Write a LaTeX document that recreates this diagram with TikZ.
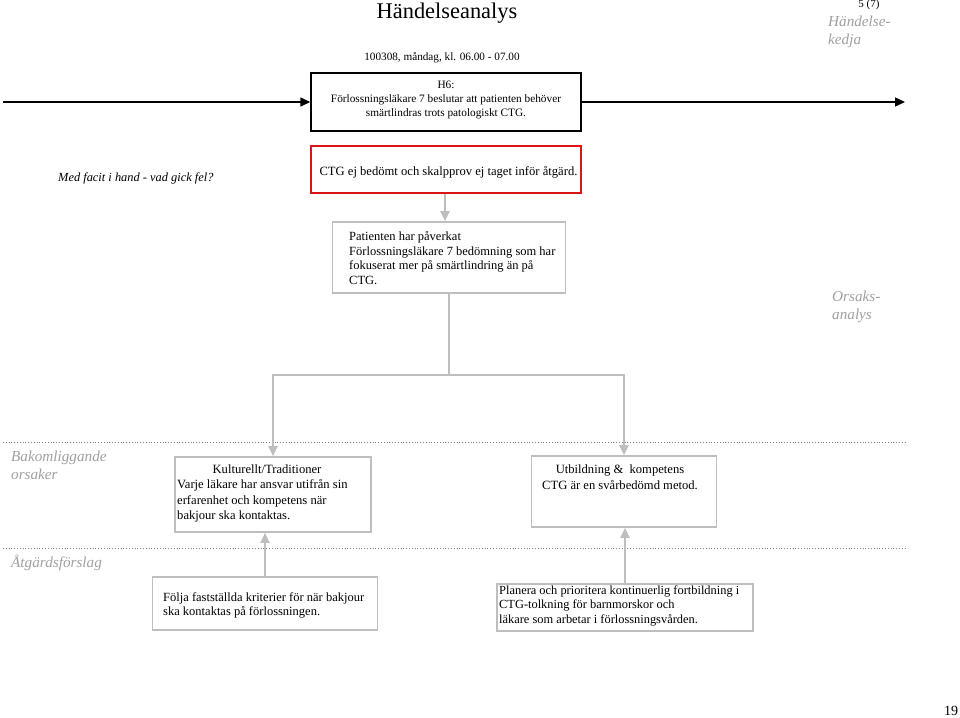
\documentclass[tikz,border=0pt]{standalone}
\usepackage{fontspec}
\setmainfont{Liberation Serif}
\usetikzlibrary{arrows.meta}
\definecolor{boxgray}{RGB}{190,190,190}
\definecolor{labgray}{RGB}{160,160,160}
\definecolor{boxred}{RGB}{220,20,20}
\begin{document}
\begin{tikzpicture}[x=1pt,y=-1pt,
  box/.style={draw=boxgray, line width=1.6pt, fill=white, inner sep=0pt},
  blackbox/.style={draw=black, line width=1.4pt, fill=white, inner sep=0pt},
  redbox/.style={draw=boxred, line width=2pt, fill=white, inner sep=0pt},
  txt/.style={inner sep=0pt, font=\fontsize{12.6}{15.3}\selectfont},
  sidelabel/.style={inner sep=0pt, anchor=west, text=labgray, font=\fontsize{15.2}{18}\itshape\selectfont, align=left},
  conn/.style={draw=boxgray, line width=2pt, -{Triangle[length=10pt,width=9pt]}},
  plainconn/.style={draw=boxgray, line width=2pt},
  mainline/.style={draw=black, line width=1.4pt, -{Triangle[length=10pt,width=9pt]}},
  sep/.style={draw=gray, line width=0.8pt, dotted}
]
\useasboundingbox (0,0) rectangle (960,717);

% header
\node[inner sep=0pt, font=\fontsize{22.4}{26}\selectfont] (title) at (447,13) {Händelseanalys};
\node[inner sep=0pt, font=\fontsize{11.2}{13}\selectfont] (date) at (442,58) {100308, måndag, kl. 06.00 - 07.00};
\node[inner sep=0pt, font=\fontsize{11}{13}\selectfont] (page) at (869,5) {5 (7)};
\node[sidelabel] (kedja) at (828,32) {\strut Händelse-\\\strut kedja};
\node[inner sep=0pt, font=\fontsize{14}{16}\selectfont] (pnum) at (951,711) {19};

% H6 box and main line
\node[blackbox, minimum width=270pt, minimum height=58pt] (h6) at (446,102) {};
\node[txt, align=center, font=\fontsize{11.3}{14}\selectfont] (h6t) at (446,99.5)
  {\strut H6:\\\strut Förlossningsläkare 7 beslutar att patienten behöver\\\strut smärtlindras trots patologiskt CTG.};
\coordinate (mstart) at (3,102);
\coordinate (mend) at (905,102);
\draw[mainline] (mstart) -- (h6.west);
\draw[mainline] (h6.east) -- (mend);

% question
\node[inner sep=0pt, anchor=west, font=\fontsize{12.4}{14}\itshape\selectfont] (fel) at (58,178) {Med facit i hand - vad gick fel?};

% red box
\node[redbox, minimum width=270pt, minimum height=47pt] (red) at (446,169.5) {};
\node[txt] (redt) at (448.5,172.5) {CTG ej bedömt och skalpprov ej taget inför åtgärd.};

% Patienten box
\node[box, minimum width=233pt, minimum height=71pt] (pat) at (449,257.5) {};
\node[txt, anchor=west, align=left, font=\fontsize{12.5}{14.7}\selectfont] (patt) at (349,259.5)
  {\strut Patienten har påverkat\\\strut Förlossningsläkare 7 bedömning som har\\\strut fokuserat mer på smärtlindring än på\\\strut CTG.};
\draw[conn] (red.south -| 445,0) -- (pat.north -| 445,0);

% side labels
\node[sidelabel] (orsak) at (832,306.5) {\strut Orsaks-\\\strut analys};
\node[sidelabel] (bakom) at (11,466.5) {\strut Bakomliggande\\\strut orsaker};
\node[sidelabel] (atg) at (11,563) {Åtgärdsförslag};

% separators
\coordinate (s1a) at (3,442); \coordinate (s1b) at (905,442);
\coordinate (s2a) at (3,548); \coordinate (s2b) at (905,548);
\draw[sep] (s1a) -- (s1b);
\draw[sep] (s2a) -- (s2b);

% cause boxes
\node[box, minimum width=196pt, minimum height=75pt] (c1) at (273,494.5) {};
\node[txt] (c1h) at (267,469.5) {Kulturellt/Traditioner};
\node[txt, anchor=west, align=left] (c1t) at (177,501)
  {\strut Varje läkare har ansvar utifrån sin\\\strut erfarenhet och kompetens när\\\strut bakjour ska kontaktas.};
\node[box, minimum width=185pt, minimum height=71pt] (c2) at (624,491.5) {};
\node[txt, align=center, font=\fontsize{12.6}{16}\selectfont] (c2t) at (620,478)
  {\strut Utbildning \&\ \ kompetens\\\strut CTG är en svårbedömd metod.};

% split connectors
\coordinate (split) at (449,375);
\draw[plainconn] (pat.south) -- (split);
\draw[conn] (split) -| (c1.north);
\draw[conn] (split) -| (c2.north);

% action boxes
\node[box, minimum width=225pt, minimum height=53pt] (a1) at (265,603.5) {};
\node[txt, anchor=west, align=left, font=\fontsize{12.5}{14}\selectfont] (a1t) at (163,606)
  {\strut Följa fastställda kriterier för när bakjour\\\strut ska kontaktas på förlossningen.};
\node[box, minimum width=256pt, minimum height=47pt] (a2) at (625,607.5) {};
\node[txt, anchor=west, align=left, font=\fontsize{12.4}{14.5}\selectfont] (a2t) at (499,606)
  {\strut Planera och prioritera kontinuerlig fortbildning i\\\strut CTG-tolkning för barnmorskor och\\\strut läkare som arbetar i förlossningsvården.};
\draw[conn] (a1.north) -- (a1.north |- c1.south);
\draw[conn] (a2.north) -- (a2.north |- c2.south);
\end{tikzpicture}
\end{document}
